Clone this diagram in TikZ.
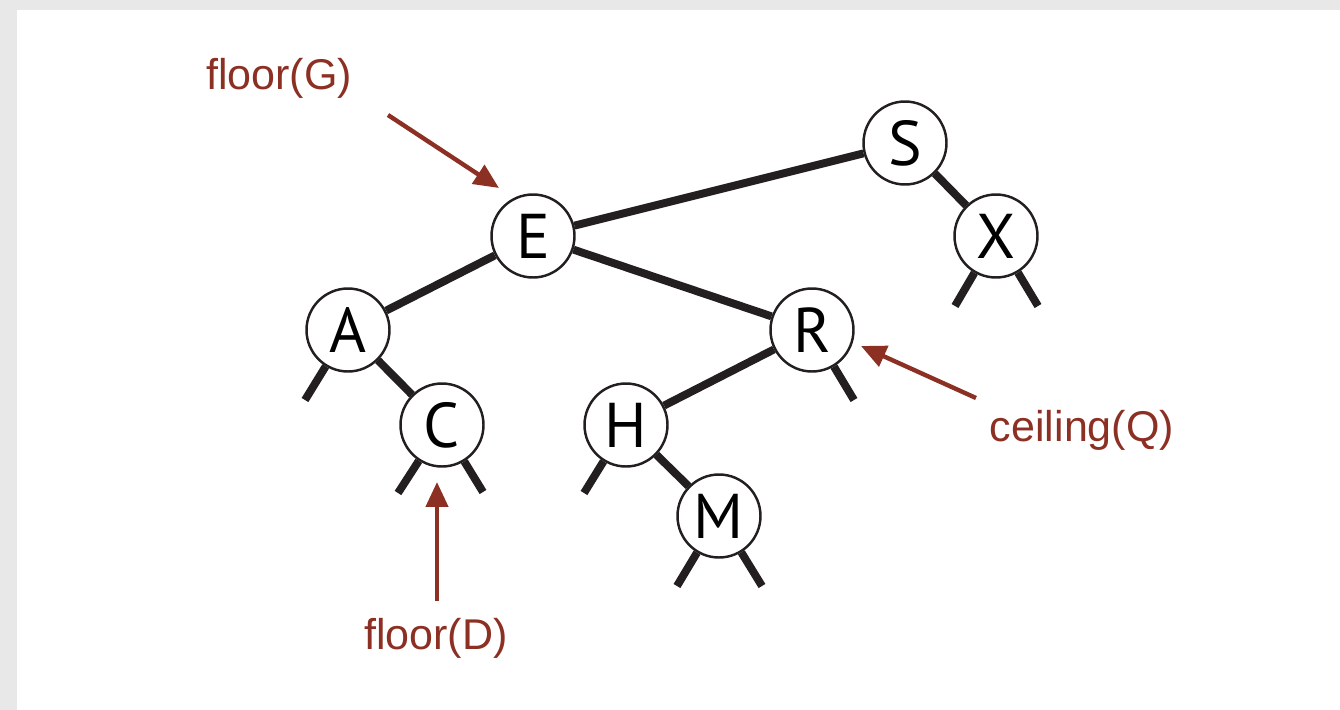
\documentclass[tikz,border=0pt]{standalone}
\usepackage{fontspec}
\setmainfont{Liberation Sans}
\newfontfamily\keyfont{PT Sans}
\usetikzlibrary{arrows.meta}

\definecolor{treeblack}{RGB}{35,31,32}
\definecolor{ptrred}{RGB}{140,48,36}

\tikzset{
  key/.style={circle, draw=treeblack, line width=1.4pt, fill=white, minimum size=1.66cm, inner sep=0pt, font=\keyfont\fontsize{36}{36}\selectfont},
  link/.style={draw=treeblack, line width=4.5pt},
  ptr/.style={draw=ptrred, line width=2.5pt, -{Triangle[length=0.5cm,width=0.44cm]}},
  lbl/.style={text=ptrred, font=\fontsize{24.5}{24.5}\selectfont}
}

\begin{document}
\begin{tikzpicture}[x=0.02cm, y=-0.02cm]
% Frame
\fill[gray!18] (0,0) rectangle (1340,710);
\fill[white] (17,10) rectangle (1340,710);
\useasboundingbox (0,0) rectangle (1340,710);

% Keys
\node[key] (S) at (905,143) {S};
\node[key] (X) at (996,236) {X};
\node[key] (E) at (533,236) {E};
\node[key] (A) at (348,330) {A};
\node[key] (R) at (812,330) {R};
\node[key] (C) at (442,425) {C};
\node[key] (H) at (626,425) {H};
\node[key] (M) at (719,516) {M};

% Links
\draw[link] (E) -- (S);
\draw[link] (S) -- (X);
\draw[link] (E) -- (A);
\draw[link] (E) -- (R);
\draw[link] (A) -- (C);
\draw[link] (R) -- (H);
\draw[link] (H) -- (M);

% Null links
\draw[link] (A) -- ++(-43,70);
\draw[link] (C) -- ++(-44,68);
\draw[link] (C) -- ++(41,67);
\draw[link] (H) -- ++(-42,68);
\draw[link] (M) -- ++(-42,70);
\draw[link] (M) -- ++(43,70);
\draw[link] (R) -- ++(42,70);
\draw[link] (X) -- ++(-41,70);
\draw[link] (X) -- ++(42,70);

% Pointers
\node[lbl] (floorG) at (279,78) {floor(G)};
\node[lbl] (floorD) at (436,638) {floor(D)};
\node[lbl] (ceilQ) at (1082,430) {ceiling(Q)};

\coordinate (gTail) at (388,115);
\coordinate (gTip) at (499,188);
\coordinate (dTail) at (437,601);
\coordinate (dTip) at (437,482);
\coordinate (qTail) at (976,398);
\coordinate (qTip) at (861,346);

\draw[ptr] (gTail) -- (gTip);
\draw[ptr] (dTail) -- (dTip);
\draw[ptr] (qTail) -- (qTip);
\end{tikzpicture}
\end{document}
